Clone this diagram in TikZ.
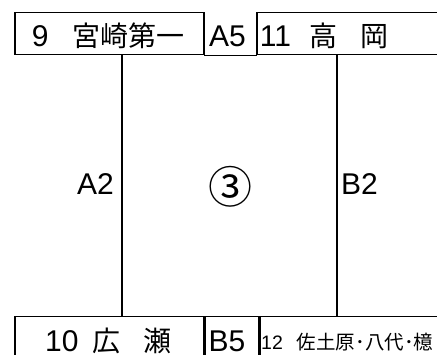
\documentclass[tikz,border=0pt]{standalone}
\usepackage{fontspec}
\setmainfont{Liberation Sans}
\newfontfamily\jp{Noto Sans CJK JP}
\usepackage{tikz}
\newcommand\bigla{\fontsize{30}{32}\selectfont}
\newcommand\bigjp{\jp\fontsize{28}{30}\selectfont}
\newcommand\smla{\fontsize{19.5}{22}\selectfont}
\newcommand\smjp{\jp\fontsize{19.5}{22}\selectfont}
\tikzset{
  box/.style={draw=black, line width=1.5pt, rectangle, inner sep=0pt, anchor=north west},
  rule/.style={draw=black, line width=1.5pt, line cap=rect},
  lab/.style={inner sep=0pt, anchor=base west, font=\bigla},
}

\begin{document}
\begin{tikzpicture}[x=1pt,y=-1pt]
  \fill[white] (0,0) rectangle (437,355);
  \useasboundingbox (0,0) rectangle (437,355);
  \clip (0,0) rectangle (437,355);
  % top row
  \node[box, minimum width=189pt, minimum height=42pt] (tl) at (14,12) {};
  \node[box, minimum width=230pt, minimum height=42pt] (tr) at (256,12) {};
  \draw[rule] (tl.south east) -- (tr.south west);
  % bottom row
  \node[box, minimum width=189pt, minimum height=60pt] (bl) at (14,316) {};
  \node[box, minimum width=53pt, minimum height=60pt] (bm) at (bl.north east) {};
  \node[box, minimum width=230pt, minimum height=60pt] (br) at (bm.north east) {};
  % side lines
  \coordinate (xa) at (122,0);
  \coordinate (xb) at (337,0);
  \draw[rule] (tl.south -| xa) -- (bl.north -| xa);
  \draw[rule] (tr.south -| xb) -- (br.north -| xb);
  % labels
  \node[lab] (t9) at (31.7,47) {9\hspace{23.5pt}{\bigjp 宮崎第一}};
  \node[lab] (ta5) at (209,47) {A5};
  \node[lab] (t11) at (259.7,47) {11\hspace{18pt}{\bigjp 高\hspace{23pt}岡}};
  \node[lab] (ta2) at (77,195) {A2};
  \node[inner sep=0pt] (tc3) at (230,187) {\jp\fontsize{44}{44}\selectfont ③};
  \node[lab] (tb2) at (341,195) {B2};
  \node[lab] (t10) at (45,352) {10\hspace{14pt}{\bigjp 広\hspace{23pt}瀬}};
  \node[lab] (tb5) at (208.5,352) {B5};
  \node[lab] (t12) at (261,350) {{\smla 12}\hspace{14pt}{\smjp 佐土原･八代･檍}};
\end{tikzpicture}
\end{document}
